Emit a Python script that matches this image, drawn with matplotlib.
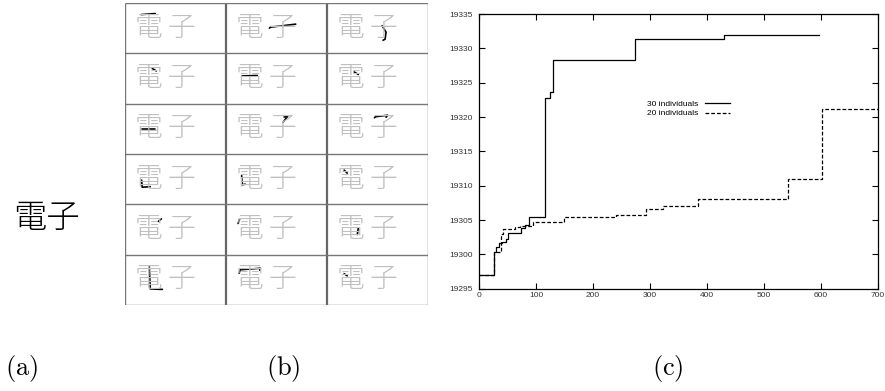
import matplotlib
matplotlib.use('Agg')
import matplotlib.pyplot as plt

plt.rcParams['mathtext.fontset'] = 'cm'
cjk = ['Noto Sans CJK JP', 'DejaVu Sans']

# ---- data ----
word = '電子'
n_rows, n_cols = 6, 3

# one stroke per cell (row-major), points as fractions of the cell (x right, y down)
stroke_x = [
    [0.16, 0.30], [0.43, 0.44, 0.69], [0.545, 0.585, 0.575, 0.555],
    [0.27, 0.31], [0.16, 0.31], [0.27, 0.31],
    [0.165, 0.30], [0.575, 0.61, 0.565], [0.47, 0.48, 0.60, 0.585],
    [0.165, 0.17, 0.25], [0.155, 0.16, 0.19], [0.17, 0.20],
    [0.33, 0.36], [0.12, 0.135], [0.31, 0.30],
    [0.24, 0.25, 0.37], [0.13, 0.14, 0.34, 0.335], [0.17, 0.20],
]
stroke_y = [
    [0.23, 0.21], [0.50, 0.48, 0.42], [0.45, 0.58, 0.72, 0.74],
    [0.30, 0.35], [0.45, 0.44], [0.37, 0.42],
    [0.51, 0.51], [0.265, 0.25, 0.37], [0.28, 0.26, 0.23, 0.27],
    [0.52, 0.66, 0.65], [0.43, 0.61, 0.60], [0.32, 0.38],
    [0.34, 0.29], [0.38, 0.29], [0.47, 0.60],
    [0.23, 0.68, 0.69], [0.37, 0.30, 0.27, 0.31], [0.38, 0.42],
]

# panel (c): best value over time, step series
x30 = [0, 25, 29, 34, 40, 47, 51, 73, 80, 88, 116, 124, 130, 274, 295, 431, 597]
y30 = [19297, 19300.3, 19301.1, 19301.6, 19301.8, 19302.2, 19303.1, 19303.9,
       19304.3, 19305.5, 19322.8, 19323.6, 19328.3, 19331.3, 19331.4, 19331.9, 19331.9]
x20 = [0, 25, 38, 41, 62, 72, 95, 149, 240, 293, 323, 384, 542, 602, 700]
y20 = [19297, 19300.4, 19303.0, 19303.7, 19304.0, 19304.2, 19304.7, 19305.5,
       19305.8, 19306.6, 19307.1, 19308.1, 19311.0, 19321.1, 19321.1]
series_labels = ['30 individuals', '20 individuals']
x_ticks = [0, 100, 200, 300, 400, 500, 600, 700]
y_ticks = [19295, 19300, 19305, 19310, 19315, 19320, 19325, 19330, 19335]
panel_labels = ['(a)', '(b)', '(c)']

fig = plt.figure(figsize=(8.85, 3.91), dpi=100)

# ---- (a) the word ----
fig.text(47 / 885, 1 - 219 / 391, word, family=cjk, fontsize=24,
         fontweight='light', ha='center', va='center', color='black')

# ---- (b) grid of strokes ----
ax_b = fig.add_axes([125 / 885, 1 - 305 / 391, 303 / 885, 302 / 391])
ax_b.set_xlim(0, n_cols)
ax_b.set_ylim(n_rows, 0)
ax_b.axis('off')
ax_b.vlines(range(1, n_cols), 0, n_rows, color='#666666', lw=1.6)
ax_b.hlines(range(1, n_rows), 0, n_cols, color='#777777', lw=1.0)
ax_b.vlines([0, n_cols], 0, n_rows, color='#777777', lw=1.0)
ax_b.hlines([0, n_rows], 0, n_cols, color='#777777', lw=1.0)

char_pos = [0.233, 0.56]  # centre of each character inside a cell
for i in range(n_rows * n_cols):
    r, c = divmod(i, n_cols)
    for ch, fx in zip(word, char_pos):
        ax_b.text(c + fx, r + 0.49, ch, family=cjk, fontsize=20,
                  fontweight='light', color='#c0c0c0', ha='center', va='center')
    ax_b.plot([c + v for v in stroke_x[i]], [r + v for v in stroke_y[i]],
              color='black', lw=1.2, solid_capstyle='round')

# ---- (c) step chart ----
ax_c = fig.add_axes([479.3 / 885, 1 - 288.7 / 391, 398.2 / 885, 274.7 / 391])
ax_c.plot(x30, y30, drawstyle='steps-post', color='black', lw=0.9,
          label=series_labels[0])
ax_c.plot(x20, y20, drawstyle='steps-post', color='black', lw=0.9,
          dashes=(3, 1.6), label=series_labels[1])
ax_c.set_xlim(0, 700)
ax_c.set_ylim(19295, 19335)
ax_c.set_xticks(x_ticks)
ax_c.set_yticks(y_ticks)
ax_c.tick_params(direction='in', top=True, right=True, length=4, width=0.8,
                 labelsize=6, labelcolor='#333333')
ax_c.tick_params(axis='y', pad=5)
ax_c.tick_params(axis='x', pad=2.5)
for lab in ax_c.get_xticklabels() + ax_c.get_yticklabels():
    lab.set_family('Liberation Sans')
for s in ax_c.spines.values():
    s.set_linewidth(0.9)
ax_c.legend(loc='upper left', bbox_to_anchor=(0.422, 0.685), frameon=False,
            markerfirst=False, prop={'family': 'Liberation Sans', 'size': 6},
            handlelength=3.0, handletextpad=0.8, labelspacing=0.15,
            borderpad=0, borderaxespad=0)

# ---- panel labels ----
for lab, xp in zip(panel_labels, [22, 283, 668]):
    fig.text(xp / 885, 1 - 368 / 391, r'$\mathrm{' + lab + '}$', fontsize=19,
             ha='center', va='center')

fig.savefig('out.png', dpi=100)
